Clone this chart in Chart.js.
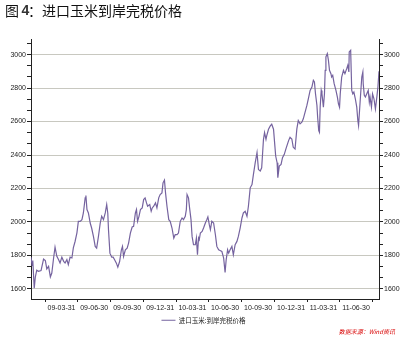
<!DOCTYPE html>
<html><head><meta charset="utf-8">
<script src="https://cdn.jsdelivr.net/npm/chart.js@4.4.0/dist/chart.umd.min.js"></script>
<style>html,body{margin:0;padding:0;background:#fff}#wrap{width:407px;height:342px;position:relative}</style>
</head><body><div id="wrap"><canvas id="c" width="407" height="342"></canvas></div>
<script>
const seriesName = "进口玉米:到岸完税价格";
const titleText = ["图 ", "4", "：进口玉米到岸完税价格"];
const sourceText = "数据来源：Wind资讯";
const dates = ["09-01-05","09-01-08","09-01-10","09-01-14","09-01-17","09-01-21","09-01-26","09-02-02","09-02-09","09-02-14","09-02-18","09-02-23","09-02-28","09-03-04","09-03-09","09-03-13","09-03-18","09-03-23","09-03-27","09-04-01","09-04-06","09-04-10","09-04-15","09-04-19","09-04-24","09-04-29","09-05-03","09-05-08","09-05-13","09-05-17","09-05-22","09-05-27","09-05-31","09-06-05","09-06-07","09-06-10","09-06-14","09-06-19","09-06-23","09-06-28","09-07-03","09-07-07","09-07-12","09-07-17","09-07-21","09-07-26","09-07-31","09-08-04","09-08-07","09-08-09","09-08-13","09-08-18","09-08-22","09-08-26","09-08-31","09-09-04","09-09-09","09-09-14","09-09-17","09-09-20","09-09-25","09-09-30","09-10-04","09-10-09","09-10-14","09-10-18","09-10-23","09-10-26","09-10-29","09-11-02","09-11-06","09-11-11","09-11-15","09-11-19","09-11-23","09-11-26","09-12-02","09-12-06","09-12-09","09-12-13","09-12-18","09-12-22","09-12-27","09-12-31",
"10-01-05","10-01-08","10-01-12","10-01-15","10-01-19","10-01-24","10-01-28","10-02-02","10-02-07","10-02-11","10-02-16","10-02-20","10-02-25","10-03-02","10-03-06","10-03-11","10-03-14","10-03-16","10-03-20","10-03-23","10-03-27","10-03-30","10-04-03","10-04-08","10-04-11","10-04-14","10-04-17","10-04-19","10-04-22","10-04-27","10-05-01","10-05-06","10-05-10","10-05-13","10-05-17","10-05-20","10-05-24","10-05-29","10-06-03","10-06-07","10-06-12","10-06-16","10-06-21","10-06-26","10-06-30","10-07-03","10-07-07","10-07-10","10-07-14","10-07-19","10-07-23","10-07-28","10-08-02","10-08-06","10-08-11","10-08-16","10-08-20","10-08-25","10-08-30","10-09-03","10-09-08","10-09-13","10-09-17","10-09-22","10-09-27","10-10-01","10-10-06","10-10-10","10-10-15","10-10-18","10-10-22","10-10-24","10-10-29","10-11-03","10-11-07","10-11-12","10-11-15","10-11-18","10-11-22","10-11-24","10-11-28","10-12-03","10-12-07","10-12-12","10-12-17","10-12-24","10-12-28",
"11-01-02","11-01-06","11-01-11","11-01-16","11-01-20","11-01-25","11-01-30","11-02-03","11-02-08","11-02-13","11-02-17","11-02-22","11-02-27","11-03-03","11-03-06","11-03-09","11-03-13","11-03-15","11-03-18","11-03-20","11-03-22","11-03-25","11-03-27","11-03-31","11-04-03","11-04-05","11-04-07","11-04-11","11-04-14","11-04-17","11-04-21","11-04-23","11-04-26","11-04-30","11-05-05","11-05-09","11-05-12","11-05-15","11-05-17","11-05-21","11-05-26","11-05-30","11-06-04","11-06-07","11-06-10","11-06-11","11-06-15","11-06-18","11-06-21","11-06-24","11-06-28","11-07-02","11-07-05","11-07-07","11-07-11","11-07-16","11-07-19","11-07-20","11-07-23","11-07-26","11-07-30","11-08-03","11-08-06","11-08-08","11-08-12","11-08-15","11-08-19","11-08-23","11-08-27","11-08-30","11-09-02"];
const prices = [1790,1740,1770,1605,1670,1712,1705,1710,1778,1770,
1720,1735,1672,1695,1785,1850,1795,1775,1755,1790,
1765,1755,1775,1745,1790,1785,1845,1885,1935,2004,
2004,2014,2054,2144,2158,2074,2054,1994,1964,1914,
1854,1844,1914,1994,2034,2014,2054,2104,2054,1954,
1814,1790,1790,1774,1754,1730,1764,1834,1854,1794,
1834,1844,1874,1934,1970,1974,2054,2074,2004,2034,
2074,2084,2134,2144,2114,2094,2104,2064,2084,2094,
2114,2084,2144,2164,2174,2234,2250,2174,2094,2014,
2004,1964,1904,1924,1924,1934,2004,2024,2014,2034,
2074,2164,2144,2084,2014,1914,1864,1864,1904,1804,
1904,1894,1934,1944,1964,1994,2014,2030,1984,1954,
2004,1994,1924,1854,1834,1830,1824,1784,1698,1774,
1834,1814,1834,1854,1804,1864,1884,1914,1964,2024,
2054,2064,2034,2094,2204,2224,2284,2354,2414,2314,
2304,2324,2494,2534,2494,2514,2554,2574,2584,2554,
2474,2394,2354,2264,2334,2344,2384,2404,2440,2486,
2506,2496,2446,2436,2556,2606,2586,2596,2616,2656,
2696,2736,2786,2806,2846,2836,2766,2696,2626,2546,
2536,2686,2786,2766,2686,2766,2906,2986,3006,2966,
2906,2886,2866,2876,2826,2786,2746,2706,2686,2766,
2866,2906,2886,2916,2936,2896,3016,3026,2786,2766,
2776,2736,2686,2606,2576,2706,2866,2896,2826,2756,
2746,2766,2786,2716,2746,2686,2766,2736,2676,2746,
2806,2900];
const xTickLabels = ["09-03-31","09-06-30","09-09-30","09-12-31","10-03-31","10-06-30","10-09-30","10-12-31","11-03-31","11-06-30"];
const yAxisMin = 1540, yAxisMax = 3093, yLabelBase = 1600, yLabelStep = 200, yMinorPerLabel = 3;

function dayNum(s){const p=s.split('-').map(Number);return (Date.UTC(2000+p[0],p[1]-1,p[2])-Date.UTC(2009,0,1))/86400000;}
const labelDays = xTickLabels.map(dayNum);
const labelMap = new Map(labelDays.map((d,i)=>[d,xTickLabels[i]]));
const xMin = dayNum(dates[0]), xMax = dayNum(dates[dates.length-1]);
const markDays = [];
markDays.push(labelDays[0]-(labelDays[1]-labelDays[0])/2);
for (let i=1;i<labelDays.length;i++) markDays.push((labelDays[i-1]+labelDays[i])/2);
markDays.push(labelDays[labelDays.length-1]+(labelDays[labelDays.length-1]-labelDays[labelDays.length-2])/2);
const xTickValues = labelDays.concat(markDays).filter(v=>v>=xMin&&v<=xMax).sort((a,b)=>a-b);
const yTickValues = [];
for (let i=0;;i++){const v=yLabelBase+i*yLabelStep/yMinorPerLabel; if(v>yAxisMax)break; yTickValues.push(v);}
function isMajor(v){const q=(v-yLabelBase)/yLabelStep;return Math.abs(q-Math.round(q))<1e-6;}

const axisColor='#222', gridColor='#c8c8c0', lineColor='#75639f';
const tickFont={family:'"Liberation Sans", Arial, sans-serif', size:7};

function yScale(pos, width, onArea){
  return {type:'linear', position:pos, min:yAxisMin, max:yAxisMax,
    afterBuildTicks:s=>{s.ticks=yTickValues.map(v=>({value:v}));},
    afterFit:s=>{s.width=width;},
    border:{display:true,color:axisColor,width:1},
    grid:{drawOnChartArea:onArea, color:c=>(c.tick&&isMajor(c.tick.value))?gridColor:'rgba(0,0,0,0)', tickColor:axisColor, tickLength:4, lineWidth:1},
    ticks:{autoSkip:false, padding:1, color:axisColor, font:tickFont, callback:v=>isMajor(v)?String(Math.round(v)):''}
  };
}

const textPlugin = {id:'texts', afterDraw(chart){
  const ctx=chart.ctx; ctx.save();
  ctx.textBaseline='middle'; ctx.fillStyle='#111';
  ctx.font='14px "Noto Sans CJK SC"'; ctx.fillText(titleText[0].trim(),5,11);
  ctx.font='bold 14px "Liberation Sans"'; ctx.fillStyle='#333'; ctx.fillText(titleText[1],21.5,11);
  ctx.font='14px "Noto Sans CJK SC"'; ctx.fillStyle='#111'; ctx.fillText(titleText[2],28,11);
  ctx.font='italic 6px "Noto Sans CJK SC"'; ctx.fillStyle='#d80000'; ctx.textAlign='right';
  ctx.fillText(sourceText,395,332);
  ctx.restore();
}};

new Chart(document.getElementById('c'), {
  type:'line',
  data:{datasets:[{label:seriesName, data:dates.map((d,i)=>({x:dayNum(d),y:prices[i]})), borderColor:lineColor, backgroundColor:lineColor, borderWidth:1.2, pointRadius:0, tension:0, fill:false, yAxisID:'y'}]},
  options:{responsive:false, animation:false, devicePixelRatio:1,
    layout:{padding:{top:39,left:0,right:0,bottom:8.5}},
    scales:{
      x:{type:'linear', position:'bottom', min:xMin, max:xMax,
        afterBuildTicks:s=>{s.ticks=xTickValues.map(v=>({value:v}));},
        afterFit:s=>{s.height=14;},
        border:{display:true,color:axisColor,width:1},
        grid:{drawOnChartArea:false, drawTicks:true, tickLength:3, tickColor:c=>(c.tick&&labelMap.has(c.tick.value))?'rgba(0,0,0,0)':axisColor},
        ticks:{autoSkip:false, maxRotation:0, minRotation:0, padding:2, color:axisColor, font:tickFont, callback:v=>labelMap.get(v)||''}
      },
      y:yScale('left',31,true),
      y2:yScale('right',28,false)
    },
    plugins:{
      legend:{display:true, position:'bottom', labels:{usePointStyle:true, pointStyle:'line', pointStyleWidth:14, padding:4, color:'#222', font:{family:'"Noto Sans CJK SC"', size:6.5}}},
      tooltip:{enabled:false}
    }
  },
  plugins:[textPlugin]
});
</script></body></html>
